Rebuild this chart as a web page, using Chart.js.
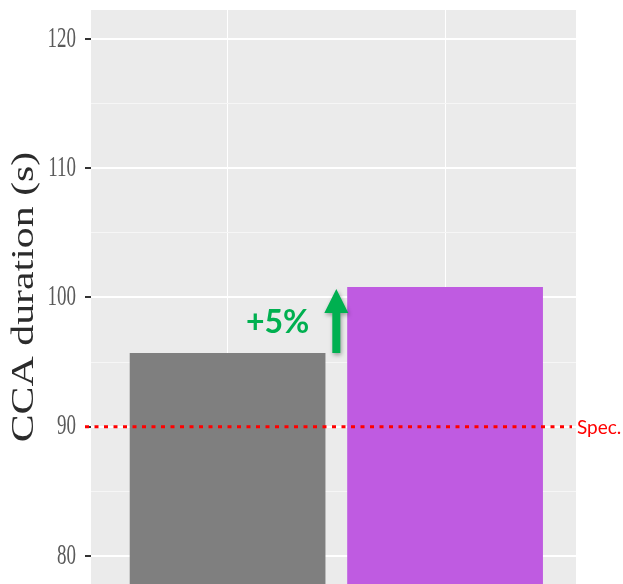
<!DOCTYPE html>
<html>
<head>
<meta charset="utf-8">
<script src="https://cdn.jsdelivr.net/npm/chart.js@4.4.1/dist/chart.umd.min.js"></script>
<style>
  html, body { margin: 0; padding: 0; background: #ffffff; }
  #wrap { width: 623px; height: 584px; }
</style>
</head>
<body>
<div id="wrap"><canvas id="chart" width="623" height="584"></canvas></div>
<script>
// Discrete x positions of the two bars and their CCA durations (s)
const categories = [1, 2];
const durations = [95.7, 100.8];
const barColors = ['#7f7f7f', '#bf5be1'];

// Y axis: gridline positions, labelled ticks and visible range
const yTicks = [80, 85, 90, 95, 100, 105, 110, 115, 120];
const yLabelTicks = [80, 90, 100, 110, 120];
const yRange = [77.83, 122.24];
const xRange = [0.372, 2.602];

// Specification limit
const specLimit = 90;
const specLabel = 'Spec.';
const yTitle = 'CCA duration (s)';

const isMajor = v => yLabelTicks.includes(v);

// Grey ggplot-style panel behind everything
const panelPlugin = {
  id: 'panel',
  beforeDraw(chart) {
    const { ctx, chartArea: a } = chart;
    ctx.save();
    ctx.fillStyle = '#ffffff';
    ctx.fillRect(0, 0, chart.width, chart.height);
    ctx.fillStyle = '#ebebeb';
    ctx.fillRect(a.left, a.top, a.right - a.left, a.bottom - a.top);
    ctx.restore();
  }
};

// Spec line, change arrow and percentage label
const annotationPlugin = {
  id: 'annotations',
  afterDatasetsDraw(chart) {
    const { ctx, chartArea: a, scales: { x, y } } = chart;
    ctx.save();

    // dotted spec line
    const ys = y.getPixelForValue(specLimit);
    ctx.strokeStyle = '#ff0000';
    ctx.lineWidth = 3;
    ctx.setLineDash([4, 5.5]);
    ctx.beginPath();
    ctx.moveTo(a.left - 6, ys);
    ctx.lineTo(a.right - 4, ys);
    ctx.stroke();
    ctx.setLineDash([]);

    ctx.fillStyle = '#ff0000';
    ctx.font = '19px Lato';
    ctx.textAlign = 'left';
    ctx.textBaseline = 'middle';
    ctx.fillText(specLabel, a.right + 1, ys + 1);

    // arrow between the two bar tops
    const ax = x.getPixelForValue((categories[0] + categories[1]) / 2);
    const yBottom = y.getPixelForValue(durations[0]);
    const yTop = y.getPixelForValue(durations[1]) + 2;
    const headLen = 24, headHalf = 12, shaftHalf = 4;
    ctx.save();
    ctx.shadowColor = 'rgba(0,0,0,0.35)';
    ctx.shadowBlur = 4;
    ctx.shadowOffsetX = 1;
    ctx.shadowOffsetY = 2;
    ctx.fillStyle = '#00b050';
    ctx.beginPath();
    ctx.moveTo(ax, yTop);
    ctx.lineTo(ax + headHalf, yTop + headLen);
    ctx.lineTo(ax + shaftHalf, yTop + headLen);
    ctx.lineTo(ax + shaftHalf, yBottom);
    ctx.lineTo(ax - shaftHalf, yBottom);
    ctx.lineTo(ax - shaftHalf, yTop + headLen);
    ctx.lineTo(ax - headHalf, yTop + headLen);
    ctx.closePath();
    ctx.fill();
    ctx.restore();

    // percentage change label
    const pct = Math.round((durations[1] - durations[0]) / durations[0] * 100);
    ctx.fillStyle = '#00b050';
    ctx.font = 'bold 32px Lato';
    ctx.textAlign = 'right';
    ctx.textBaseline = 'middle';
    ctx.fillText('+' + pct + '%', ax - 27, (yTop + yBottom) / 2 + 2);

    ctx.restore();
  }
};

// Tall serif tick labels and axis title for the y axis
const yTextPlugin = {
  id: 'yText',
  afterDraw(chart) {
    const { ctx, chartArea: a, scales: { y } } = chart;
    ctx.save();
    ctx.fillStyle = '#5a5a5a';
    ctx.font = '19px "Liberation Serif"';
    ctx.textAlign = 'right';
    ctx.textBaseline = 'middle';
    y.ticks.forEach(t => {
      if (!isMajor(t.value)) return;
      const py = y.getPixelForValue(t.value);
      ctx.save();
      ctx.translate(y.right - 15, py);
      ctx.scale(1, 1.55);
      ctx.fillText(String(t.value), 0, 0);
      ctx.restore();
    });

    ctx.fillStyle = '#2b2b2b';
    ctx.font = '31px "Liberation Serif"';
    ctx.textAlign = 'center';
    ctx.textBaseline = 'alphabetic';
    ctx.translate(33, (a.top + a.bottom) / 2);
    ctx.rotate(-Math.PI / 2);
    ctx.scale(1.35, 1);
    ctx.fillText(yTitle, 0, 0);
    ctx.restore();
  }
};

new Chart(document.getElementById('chart'), {
  type: 'bar',
  data: {
    datasets: [{
      data: categories.map((c, i) => ({ x: c, y: durations[i] })),
      backgroundColor: barColors,
      borderWidth: 0,
      barPercentage: 0.9,
      categoryPercentage: 1.0
    }]
  },
  options: {
    responsive: false,
    animation: false,
    layout: { padding: { top: 10, right: 47, left: 0, bottom: 0 } },
    plugins: { legend: { display: false }, tooltip: { enabled: false } },
    scales: {
      x: {
        type: 'linear',
        offset: false,
        min: xRange[0],
        max: xRange[1],
        afterBuildTicks: s => { s.ticks = categories.map(v => ({ value: v })); },
        ticks: { display: false },
        grid: { color: '#ffffff', lineWidth: 1, drawTicks: false, offset: false },
        border: { display: false },
        afterFit: s => { s.height = 0; }
      },
      y: {
        type: 'linear',
        min: yRange[0],
        max: yRange[1],
        afterBuildTicks: s => { s.ticks = yTicks.map(v => ({ value: v })); },
        ticks: { display: false },
        grid: {
          color: c => isMajor(c.tick.value) ? '#ffffff' : '#f6f6f6',
          lineWidth: c => isMajor(c.tick.value) ? 2 : 1,
          drawTicks: true,
          tickLength: 6,
          tickWidth: 2,
          tickColor: c => isMajor(c.tick.value) ? '#333333' : 'rgba(0,0,0,0)'
        },
        border: { display: false },
        afterFit: s => { s.width = 91; }
      }
    }
  },
  plugins: [panelPlugin, annotationPlugin, yTextPlugin]
});
</script>
</body>
</html>
